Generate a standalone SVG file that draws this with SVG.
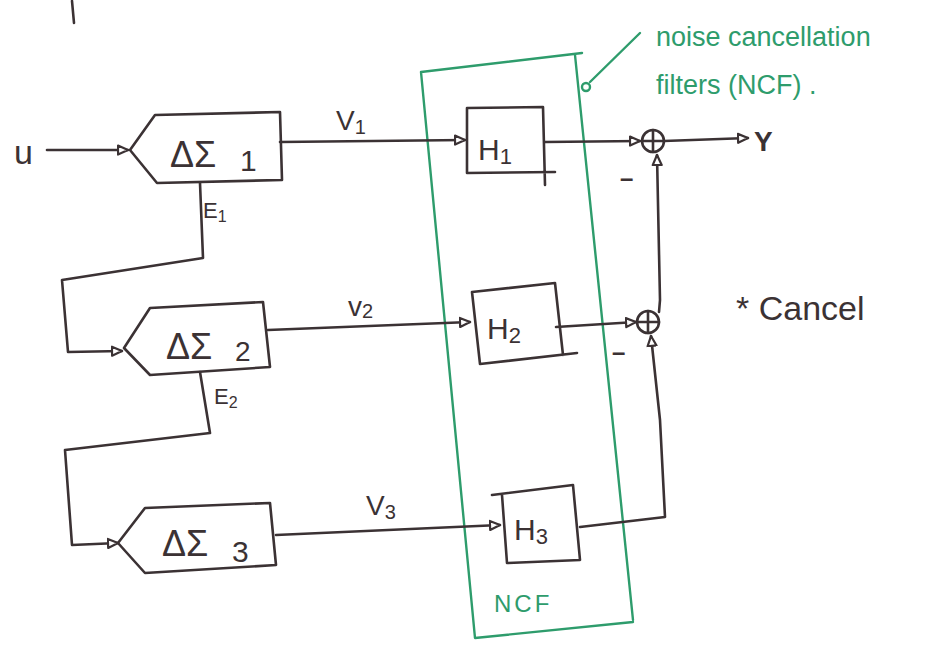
<svg xmlns="http://www.w3.org/2000/svg" width="948" height="658" viewBox="0 0 948 658">
<defs>
<style>
.k{fill:none;stroke:#3b3234;stroke-width:2.6;stroke-linecap:round;stroke-linejoin:round}
.g{fill:none;stroke:#2e9c6c;stroke-width:2.4;stroke-linecap:round;stroke-linejoin:round}
.t{font-family:"Liberation Sans",Arial,sans-serif;fill:#3b3234}
.tg{font-family:"Liberation Sans",Arial,sans-serif;fill:#2e9c6c}
</style>
<marker id="ah" viewBox="0 0 12 12" refX="11" refY="6" markerWidth="12" markerHeight="12" markerUnits="userSpaceOnUse" orient="auto">
<path d="M1,1.5 L11,6 L1,10.5 Z" fill="#fff" stroke="#3b3234" stroke-width="2.2" stroke-linejoin="round"/>
</marker>
</defs>
<rect width="948" height="658" fill="#fff"/>
<line class="k" x1="72" y1="1" x2="74" y2="23"/>

<g id="ncf">
<path class="g" d="M421,72 L582,53 M421,72 L475,638 L633,622 M575,55 L633,620"/>
<path class="g" d="M590,82 L640,33"/>
<circle cx="586" cy="87" r="4" class="g"/>
<text class="tg" x="494" y="612" font-size="24" letter-spacing="3">NCF</text>
<text class="tg" x="656" y="46" font-size="27">noise cancellation</text>
<text class="tg" x="656" y="94" font-size="27">filters (NCF) .</text>
</g>

<g id="ds1">
<path class="k" d="M130,150 L155,115 L280,112 L282,180 L157,183 Z"/>
<text class="t" x="170" y="167" font-size="36">ΔΣ<tspan x="240" y="171" font-size="30">1</tspan></text>
</g>
<g id="ds2">
<path class="k" d="M124,348 L150,308 L263,302 L270,367 L150,375 Z"/>
<text class="t" x="166" y="359" font-size="36">ΔΣ<tspan x="235" y="361" font-size="28">2</tspan></text>
</g>
<g id="ds3">
<path class="k" d="M118,543 L145,508 L270,503 L276,565 L145,573 Z"/>
<text class="t" x="162" y="556" font-size="36">ΔΣ<tspan x="232" y="562" font-size="30">3</tspan></text>
</g>

<g id="h1">
<path class="k" d="M467,108 L543,107 L545,185 M467,108 L467,173 L555,172"/>
<text class="t" x="478" y="160" font-size="30">H<tspan font-size="22" dy="4">1</tspan></text>
</g>
<g id="h2">
<path class="k" d="M472,292 L555,283 L563,355 M472,292 L480,364 L577,353"/>
<text class="t" x="487" y="339" font-size="30">H<tspan font-size="22" dy="4">2</tspan></text>
</g>
<g id="h3">
<path class="k" d="M492,495 L573,485 L580,560 L507,563 M502,495 L507,563"/>
<text class="t" x="514" y="540" font-size="30">H<tspan font-size="22" dy="4">3</tspan></text>
</g>

<g id="sum1">
<circle class="k" cx="653" cy="141" r="11"/>
<path class="k" d="M642,141 L664,141 M653,130 L653,152"/>
</g>
<g id="sum2">
<circle class="k" cx="648" cy="322" r="11"/>
<path class="k" d="M637,322 L659,322 M648,311 L648,333"/>
</g>

<g id="connectors">
<path class="k" d="M47,150 L128,150" marker-end="url(#ah)"/>
<path class="k" d="M280,142 L465,140" marker-end="url(#ah)"/>
<path class="k" d="M200,183 L203,258 L62,280 L68,352 L122,351" marker-end="url(#ah)"/>
<path class="k" d="M268,330 L470,322" marker-end="url(#ah)"/>
<path class="k" d="M200,372 L210,433 L65,450 L72,545 L118,543" marker-end="url(#ah)"/>
<path class="k" d="M276,535 L500,525" marker-end="url(#ah)"/>
<path class="k" d="M545,142 L640,141" marker-end="url(#ah)"/>
<path class="k" d="M664,141 L748,138" marker-end="url(#ah)"/>
<path class="k" d="M556,327 L636,322" marker-end="url(#ah)"/>
<path class="k" d="M659,312 L660,300 L657,155" marker-end="url(#ah)"/>
<path class="k" d="M580,527 L665,517 L660,420 L651,336" marker-end="url(#ah)"/>
</g>

<g id="labels">
<text class="t" x="14" y="164" font-size="34">u</text>
<text class="t" x="754" y="151" font-size="28" font-weight="bold">Y</text>
<text class="t" x="336" y="130" font-size="28">V<tspan font-size="20" dy="4">1</tspan></text>
<text class="t" x="348" y="316" font-size="28">v<tspan font-size="20" dy="2">2</tspan></text>
<text class="t" x="366" y="515" font-size="28">V<tspan font-size="20" dy="4">3</tspan></text>
<text class="t" x="203" y="218" font-size="22">E<tspan font-size="16" dy="4">1</tspan></text>
<text class="t" x="214" y="404" font-size="22">E<tspan font-size="16" dy="4">2</tspan></text>
<text class="t" x="620" y="186" font-size="24" font-weight="bold">–</text>
<text class="t" x="612" y="360" font-size="24" font-weight="bold">–</text>
<text class="t" x="736" y="320" font-size="34">* Cancel</text>
</g>
</svg>
